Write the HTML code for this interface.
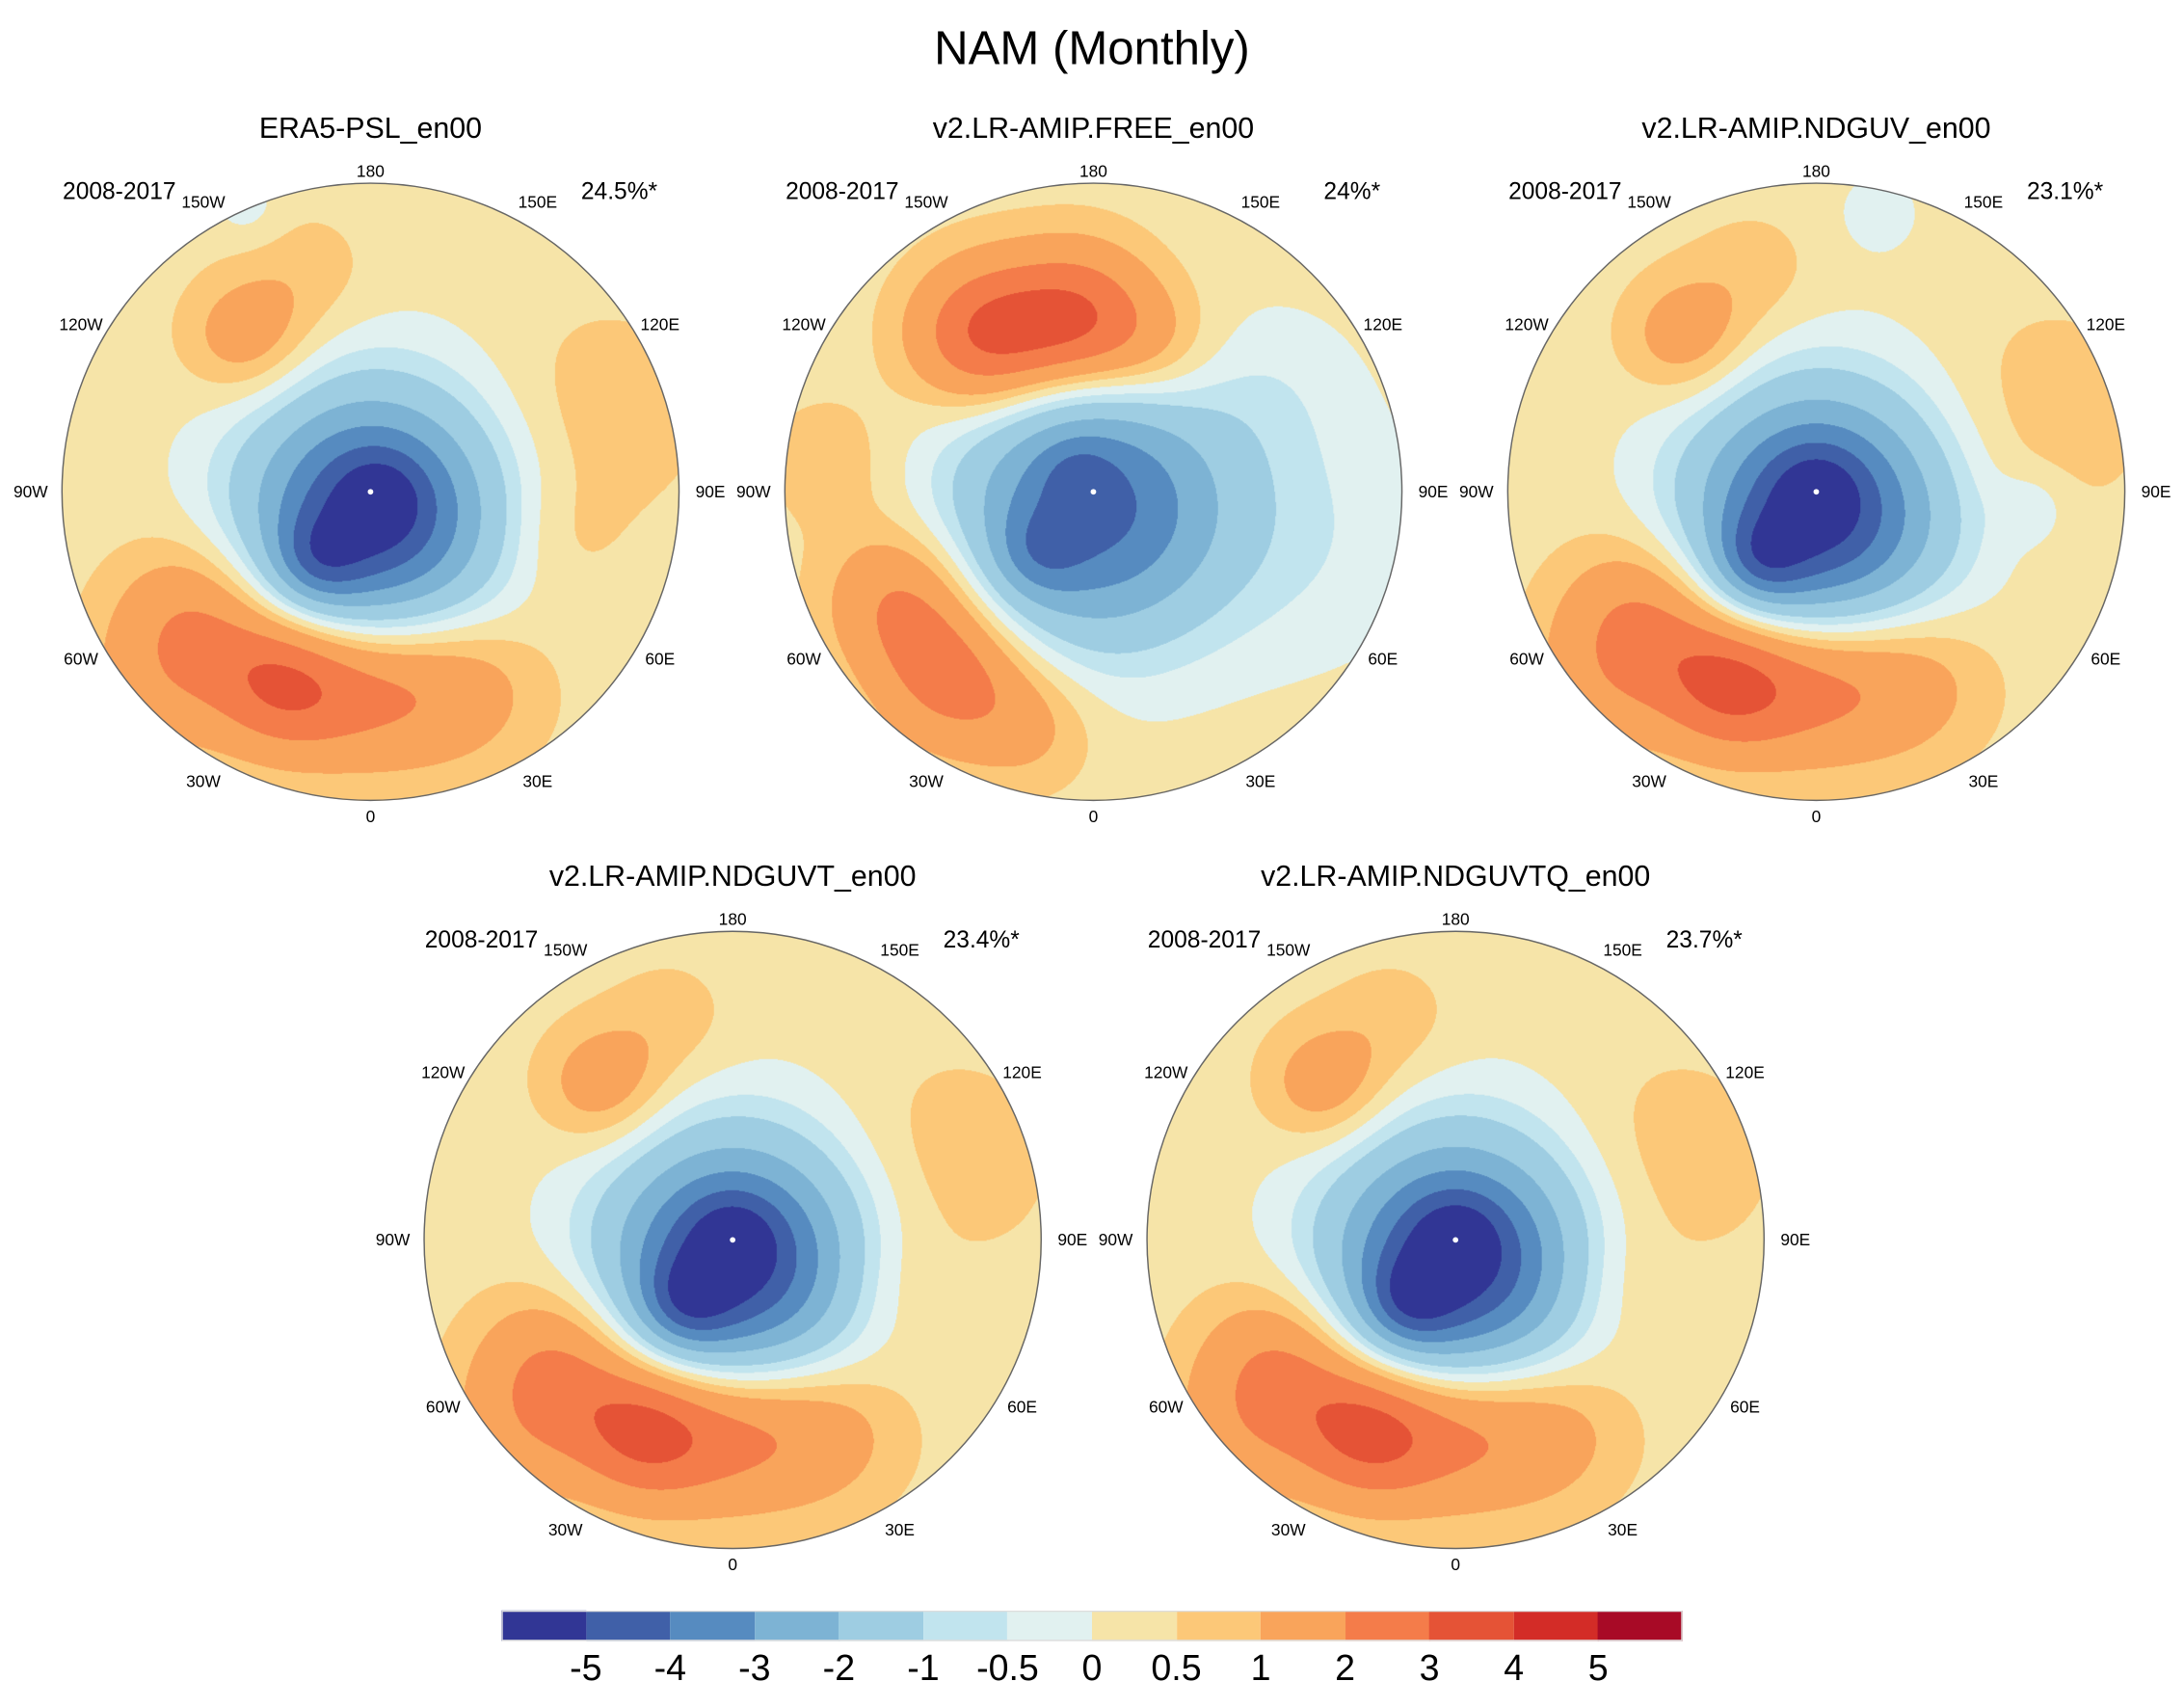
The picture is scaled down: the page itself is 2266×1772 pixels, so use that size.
<!DOCTYPE html>
<html><head><meta charset="utf-8"><style>
html,body{margin:0;padding:0;background:#fff;overflow:hidden}
#root{position:absolute;left:0;top:0;width:1568px;height:1226px;transform:scale(1.44515,1.44535);transform-origin:0 0;font-family:"Liberation Sans",sans-serif;color:#000}
.t{position:absolute;white-space:nowrap;line-height:1}
canvas{position:absolute;border-radius:50%}
.ring{position:absolute;border:1px solid #666;border-radius:50%;box-sizing:border-box;pointer-events:none}
.dot{position:absolute;width:4px;height:4px;background:#fff;border-radius:50%}
</style></head><body>
<div id="root">
<div class="t" style="left:0;width:1568px;text-align:center;top:18px;font-size:34px">NAM (Monthly)</div>
</div>
<script>
const levels=[-5,-4,-3,-2,-1,-0.5,0,0.5,1,2,3,4,5];
const levelLabels=["-5","-4","-3","-2","-1","-0.5","0","0.5","1","2","3","4","5"];
const colors=["#313695","#4060a8","#568bc0","#7db3d4","#9ecde2","#c1e4ee","#e1f1f0","#f6e4a8","#fcc878","#f9a45b","#f47c4a","#e55336","#d32c27","#a80a26"];
const panelTitles=["ERA5-PSL_en00","v2.LR-AMIP.FREE_en00","v2.LR-AMIP.NDGUV_en00","v2.LR-AMIP.NDGUVT_en00","v2.LR-AMIP.NDGUVTQ_en00"];
const panelPercents=["24.5%*","24%*","23.1%*","23.4%*","23.7%*"];
const panelPeriod="2008-2017";
const baseValue=0.25;
// anomaly centers (u,v in radius units from pole), amplitude, spread
const p1X=[0.0,0.03,-0.17,-0.55,-0.28,0.0,0.3,-0.4,-0.2,0.75,0.6,-0.4,-0.7];
const p1Y=[0.08,0.02,0.22,0.42,0.62,0.62,0.62,-0.5,-0.7,-0.25,0.15,-0.92,0.65];
const p1A=[-5.5,-1.3,-1.6,1.8,2.5,1.9,1.2,1.3,0.5,0.55,0.45,-0.5,0.7];
const p1S=[0.28,0.1,0.1,0.19,0.16,0.19,0.19,0.14,0.15,0.25,0.15,0.08,0.18];
const p2X=[0.0,-0.18,-0.05,-0.62,-0.45,-0.2,-0.35,-0.05,0.2,0.7,0.6,-0.85];
const p2Y=[0.05,0.2,-0.05,0.35,0.6,0.75,-0.5,-0.55,-0.45,0.15,-0.35,-0.1];
const p2A=[-4.6,-1.2,-0.8,1.8,2.1,0.9,2.9,2.9,1.0,-0.6,-0.4,0.6];
const p2S=[0.3,0.1,0.08,0.17,0.17,0.15,0.17,0.17,0.15,0.3,0.2,0.15];
const p3X=[0.0,0.0,-0.18,-0.55,-0.28,0.0,0.3,-0.42,-0.2,0.75,0.7,0.2,-0.7];
const p3Y=[0.08,0.0,0.22,0.42,0.62,0.6,0.6,-0.5,-0.7,-0.25,0.05,-0.9,0.65];
const p3A=[-5.6,-1.3,-1.8,2.0,2.65,2.0,1.2,1.3,0.5,0.55,-0.6,-0.5,0.7];
const p3S=[0.28,0.1,0.1,0.19,0.16,0.19,0.19,0.14,0.15,0.25,0.08,0.1,0.18];
const p4X=[0.0,0.0,-0.15,-0.55,-0.28,0.0,0.3,-0.42,-0.2,0.7,0.5,-0.7];
const p4Y=[0.08,0.0,0.2,0.42,0.62,0.6,0.6,-0.5,-0.7,-0.25,0.15,0.65];
const p4A=[-5.6,-1.4,-1.8,2.0,2.65,2.0,1.2,1.3,0.5,0.55,0.45,0.7];
const p4S=[0.28,0.1,0.1,0.19,0.16,0.19,0.19,0.14,0.15,0.25,0.15,0.18];
const p5X=[0.0,0.0,-0.15,-0.55,-0.28,0.0,0.3,-0.42,-0.2,0.7,0.5,-0.7];
const p5Y=[0.08,0.0,0.2,0.42,0.62,0.6,0.6,-0.5,-0.7,-0.25,0.15,0.65];
const p5A=[-5.7,-1.4,-1.8,2.0,2.7,1.9,1.2,1.3,0.5,0.55,0.45,0.7];
const p5S=[0.28,0.1,0.1,0.19,0.16,0.19,0.19,0.14,0.15,0.25,0.15,0.18];
const lonLabels=["180","150E","120E","90E","60E","30E","0","30W","60W","90W","120W","150W"];

const fields=[[p1X,p1Y,p1A,p1S],[p2X,p2Y,p2A,p2S],[p3X,p3Y,p3A,p3S],[p4X,p4Y,p4A,p4S],[p5X,p5Y,p5A,p5S]];
const centers=[[266,353],[785,353],[1304,353],[526,890],[1045,890]];
const R=222;
const root=document.getElementById('root');
function rgb(h){return [parseInt(h.substr(1,2),16),parseInt(h.substr(3,2),16),parseInt(h.substr(5,2),16)];}
const rgbs=colors.map(rgb);
function colorIndex(v){let i=0;while(i<levels.length&&v>=levels[i])i++;return i;}

fields.forEach((f,k)=>{
  const [cx,cy]=centers[k];
  const N=660;
  const cv=document.createElement('canvas');
  
  
  cv.width=N;cv.height=N;
  cv.style.left=(cx-R)+'px';cv.style.top=(cy-R)+'px';cv.style.width=(2*R)+'px';cv.style.height=(2*R)+'px';
  const ctx=cv.getContext('2d');
  const img=ctx.createImageData(N,N);
  const [X,Y,A,S]=f;
  for(let j=0;j<N;j++){for(let i=0;i<N;i++){
    const u=(i+0.5)/N*2-1, v=(j+0.5)/N*2-1;
    const p=(j*N+i)*4;
    if(u*u+v*v>1){img.data[p+3]=0;continue;}
    let val=baseValue;
    for(let m=0;m<X.length;m++){const du=u-X[m],dv=v-Y[m];val+=A[m]*Math.exp(-(du*du+dv*dv)/(2*S[m]*S[m]));}
    const c=rgbs[colorIndex(val)];
    img.data[p]=c[0];img.data[p+1]=c[1];img.data[p+2]=c[2];img.data[p+3]=255;
  }}
  ctx.putImageData(img,0,0);
  root.appendChild(cv);
  const ring=document.createElement('div');ring.className='ring';
  
  
  ring.style.left=(cx-R)+'px';ring.style.top=(cy-R)+'px';ring.style.width=(2*R)+'px';ring.style.height=(2*R)+'px';
  root.appendChild(ring);
  const dot=document.createElement('div');dot.className='dot';
  
  
  dot.style.left=(cx-2)+'px';dot.style.top=(cy-2)+'px';root.appendChild(dot);
  const title=document.createElement('div');title.className='t';
  
  
  title.textContent=panelTitles[k];
  title.style.left=(cx-250)+'px';title.style.width='500px';title.style.textAlign='center';
  title.style.top=(cy-271)+'px';title.style.fontSize='21px';root.appendChild(title);
  const per=document.createElement('div');per.className='t';
  
  
  per.textContent=panelPeriod;per.style.left=(cx-221)+'px';per.style.top=(cy-224)+'px';per.style.fontSize='17px';root.appendChild(per);
  const pc=document.createElement('div');pc.className='t';
  
  
  pc.textContent=panelPercents[k];pc.style.left=(cx+106)+'px';pc.style.width='100px';pc.style.textAlign='right';pc.style.top=(cy-224)+'px';pc.style.fontSize='17px';root.appendChild(pc);
  lonLabels.forEach((lab,q)=>{
    const ang=q*30*Math.PI/180;
    const rr=(q===0)?230:(q===6?233:(q===3||q===9?244:240));
    const x=cx+rr*Math.sin(ang), y=cy-rr*Math.cos(ang);
    const l=document.createElement('div');l.className='t';
    
    
    l.textContent=lab;l.style.fontSize='12px';
    l.style.left=(x-20)+'px';l.style.width='40px';l.style.textAlign='center';l.style.top=(y-6)+'px';
    root.appendChild(l);
  });
});

// colorbar
const cbX0=360,cbX1=1208,cbY=1156,cbH=22;
const bw=(cbX1-cbX0)/colors.length;
colors.forEach((c,i)=>{
  const b=document.createElement('div');
  
  
  b.style.cssText='position:absolute;left:'+(cbX0+i*bw)+'px;top:'+cbY+'px;width:'+(bw+0.3)+'px;height:'+cbH+'px;background:'+c;
  root.appendChild(b);
});
const frame=document.createElement('div');


frame.style.cssText='position:absolute;box-sizing:border-box;border:1px solid #ddd;left:'+cbX0+'px;top:'+cbY+'px;width:'+(cbX1-cbX0)+'px;height:'+cbH+'px';
root.appendChild(frame);
levelLabels.forEach((t,i)=>{
  const l=document.createElement('div');l.className='t';
  
  
  l.textContent=t;l.style.fontSize='26px';
  l.style.left=(cbX0+(i+1)*bw-40)+'px';l.style.width='80px';l.style.textAlign='center';l.style.top='1184px';
  root.appendChild(l);
});
</script>
</body></html>
